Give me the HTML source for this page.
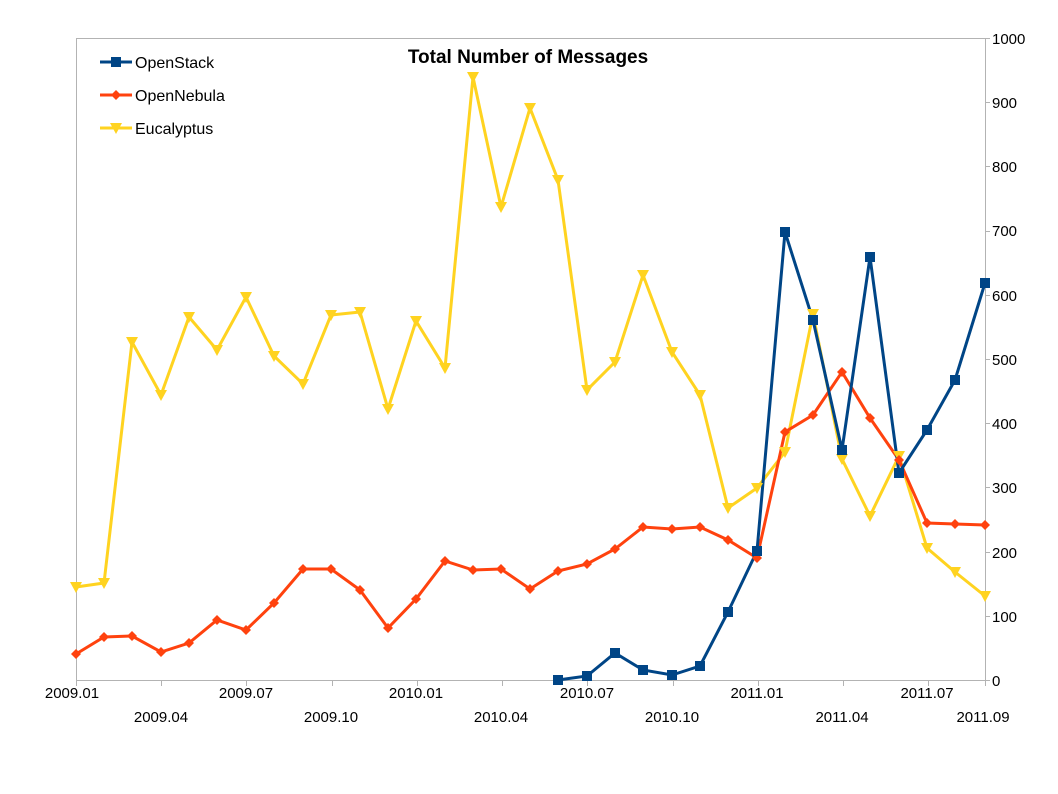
<!DOCTYPE html>
<html><head><style>body{margin:0;background:#fff}svg{display:block}</style></head><body>
<svg width="1058" height="794" xmlns="http://www.w3.org/2000/svg" font-family="Liberation Sans, sans-serif">
<rect width="1058" height="794" fill="#fff"/>
<g stroke="#b3b3b3" stroke-width="1">
<line x1="76" y1="38.5" x2="985" y2="38.5"/>
<line x1="76.5" y1="38" x2="76.5" y2="680"/>
<line x1="76" y1="680.5" x2="985" y2="680.5"/>
<line x1="985.5" y1="38" x2="985.5" y2="680"/>
<g id="yt"></g><g id="xt"></g>
</g>
<g font-size="15" fill="#000">
<text x="992" y="44">1000</text><text x="992" y="108">900</text><text x="992" y="172">800</text><text x="992" y="236">700</text><text x="992" y="301">600</text><text x="992" y="365">500</text><text x="992" y="429">400</text><text x="992" y="493">300</text><text x="992" y="558">200</text><text x="992" y="622">100</text><text x="992" y="686">0</text>
</g>
<g font-size="15" fill="#000" text-anchor="middle">
<text x="72" y="698">2009.01</text><text x="161" y="722">2009.04</text><text x="246" y="698">2009.07</text><text x="331" y="722">2009.10</text><text x="416" y="698">2010.01</text><text x="501" y="722">2010.04</text><text x="587" y="698">2010.07</text><text x="672" y="722">2010.10</text><text x="757" y="698">2011.01</text><text x="842" y="722">2011.04</text><text x="927" y="698">2011.07</text><text x="983" y="722">2011.09</text>
</g>
<text x="528" y="63" font-size="19" font-weight="bold" text-anchor="middle">Total Number of Messages</text>
<polyline fill="none" stroke="#ffd320" stroke-width="3" points="76,587 104,583 132,342 161,395 189,317 217,350 246,297 274,356 303,384 331,315 360,312 388,409 416,321 445,368 473,77 501,207 530,108 558,180 587,390 615,362 643,275 672,352 700,395 728,508 757,488 785,452 813,314 842,459 870,516 899,456 927,548 955,572 985,596"/>
<polyline fill="none" stroke="#ff420e" stroke-width="3" points="76,654 104,637 132,636 161,652 189,643 217,620 246,630 274,603 303,569 331,569 360,590 388,628 416,599 445,561 473,570 501,569 530,589 558,571 587,564 615,549 643,527 672,529 700,527 728,540 757,558 785,432 813,415 842,372 870,418 899,460 927,523 955,524 985,525"/>
<polyline fill="none" stroke="#004586" stroke-width="3" points="558,680 587,676 615,653 643,670 672,675 700,666 728,612 757,551 785,232 813,320 842,450 870,257 899,473 927,430 955,380 985,283"/>
<script>
const ns="http://www.w3.org/2000/svg",s=document.querySelector('svg');
function pts(str){return str.trim().split(/\s+/).map(p=>p.split(',').map(Number));}
const ls=document.querySelectorAll('polyline');
pts(ls[0].getAttribute('points')).forEach(([x,y])=>{const p=document.createElementNS(ns,'path');p.setAttribute('d',`M${x-6},${y-5}L${x+6},${y-5}L${x},${y+6}Z`);p.setAttribute('fill','#ffd320');s.appendChild(p);});
pts(ls[1].getAttribute('points')).forEach(([x,y])=>{const p=document.createElementNS(ns,'path');p.setAttribute('d',`M${x},${y-5}L${x+5},${y}L${x},${y+5}L${x-5},${y}Z`);p.setAttribute('fill','#ff420e');s.appendChild(p);});
pts(ls[2].getAttribute('points')).forEach(([x,y])=>{const p=document.createElementNS(ns,'rect');p.setAttribute('x',x-5);p.setAttribute('y',y-5);p.setAttribute('width',10);p.setAttribute('height',10);p.setAttribute('fill','#004586');s.appendChild(p);});
const yt=document.getElementById('yt'),xt=document.getElementById('xt');
for(let i=0;i<=10;i++){const y=Math.round(680-i*64.2)+.5;const l=document.createElementNS(ns,'line');l.setAttribute('x1',985);l.setAttribute('x2',990);l.setAttribute('y1',y);l.setAttribute('y2',y);yt.appendChild(l);}
for(let i=0;i<=32;i+=3){const x=Math.round(76+i*28.406)+.5;const l=document.createElementNS(ns,'line');l.setAttribute('x1',x);l.setAttribute('x2',x);l.setAttribute('y1',680);l.setAttribute('y2',686);xt.appendChild(l);}
{const l=document.createElementNS(ns,'line');l.setAttribute('x1',985.5);l.setAttribute('x2',985.5);l.setAttribute('y1',680);l.setAttribute('y2',686);xt.appendChild(l);}
</script>
<g font-size="16" fill="#000">
<line x1="100" y1="62" x2="132" y2="62" stroke="#004586" stroke-width="3"/><rect x="111" y="57" width="10" height="10" fill="#004586"/><text x="135" y="68">OpenStack</text>
<line x1="100" y1="95" x2="132" y2="95" stroke="#ff420e" stroke-width="3"/><path d="M116,90L121,95L116,100L111,95Z" fill="#ff420e"/><text x="135" y="101">OpenNebula</text>
<line x1="100" y1="128" x2="132" y2="128" stroke="#ffd320" stroke-width="3"/><path d="M110,123L122,123L116,134Z" fill="#ffd320"/><text x="135" y="134">Eucalyptus</text>
</g>
</svg>
</body></html>
